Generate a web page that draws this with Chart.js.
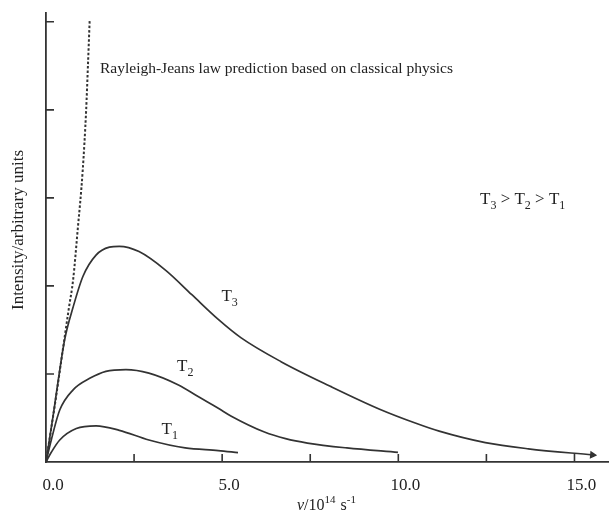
<!DOCTYPE html>
<html>
<head>
<meta charset="utf-8">
<script src="https://cdn.jsdelivr.net/npm/chart.js@4"></script>
<style>
  html,body{margin:0;padding:0;background:#fff;}
  #wrap{width:614px;height:520px;position:relative;}
</style>
</head>
<body>
<div id="wrap"><canvas id="c" width="614" height="520"></canvas></div>
<script>
// values (x in 10^14 s^-1, y in arbitrary units)
const rjX = [0, 0.27, 0.49, 0.65, 0.77, 0.9, 1.04, 1.14, 1.19, 1.24];
const rjY = [0, 0.7, 1.31, 1.75, 2.07, 2.64, 3.3, 4.0, 4.5, 5.02];

const t3X = [0, 0.2, 0.53, 0.77, 1.05, 1.42, 1.8, 2.08, 2.64, 3.39, 4.14, 4.89, 5.54, 6.67, 8.07, 9.47, 10.5, 11.16, 12.47, 13.69, 15.51];
const t3Y = [0, 0.52, 1.39, 1.76, 2.11, 2.35, 2.44, 2.45, 2.39, 2.18, 1.9, 1.62, 1.41, 1.14, 0.86, 0.6, 0.44, 0.35, 0.22, 0.15, 0.08];

const t2X = [0, 0.15, 0.39, 0.77, 1.24, 1.7, 2.27, 2.92, 3.76, 4.33, 4.89, 5.26, 6.2, 6.8, 7.42, 8.54, 9.99];
const t2Y = [0, 0.25, 0.59, 0.82, 0.95, 1.03, 1.05, 1.01, 0.875, 0.74, 0.61, 0.52, 0.34, 0.265, 0.215, 0.16, 0.11];

const t1X = [0, 0.15, 0.39, 0.86, 1.42, 2.08, 2.92, 3.95, 4.89, 5.45];
const t1Y = [0, 0.11, 0.25, 0.38, 0.41, 0.36, 0.25, 0.16, 0.13, 0.106];

const xTicks = [0, 2.5, 5, 7.5, 10, 12.5, 15];
const xTickLabels = ['0.0', '', '5.0', '', '10.0', '', '15.0'];
const yTicks = [1, 2, 3, 4, 5];

const INK = '#333';
const TXT = '#222';
const SERIF = '"Liberation Serif", "DejaVu Serif", serif';

function pts(xs, ys){ return xs.map((x,i)=>({x:x, y:ys[i]})); }

// T with subscript
function drawT(ctx, x, y, n, size){
  ctx.font = size + 'px ' + SERIF;
  ctx.fillText('T', x, y);
  const w = ctx.measureText('T').width;
  ctx.font = Math.round(size*0.72) + 'px ' + SERIF;
  ctx.fillText(String(n), x + w, y + size*0.28);
  return w + ctx.measureText(String(n)).width;
}

const decor = {
  id: 'decor',
  afterDraw(chart){
    const ctx = chart.ctx, xs = chart.scales.x, ys = chart.scales.y;
    const x0 = xs.getPixelForValue(0), y0 = ys.getPixelForValue(0);
    ctx.save();
    ctx.strokeStyle = INK; ctx.lineWidth = 1.6;
    // inner tick marks
    ctx.beginPath();
    xTicks.forEach(v=>{ if(v===0) return; const p = xs.getPixelForValue(v); ctx.moveTo(p, y0); ctx.lineTo(p, y0-8); });
    yTicks.forEach(v=>{ const p = ys.getPixelForValue(v); ctx.moveTo(x0, p); ctx.lineTo(x0+8, p); });
    ctx.stroke();

    ctx.fillStyle = TXT;
    ctx.textBaseline = 'alphabetic';
    ctx.textAlign = 'left';
    // annotation
    ctx.font = '15.5px ' + SERIF;
    ctx.fillText('Rayleigh-Jeans law prediction based on classical physics', 100, 73);

    // curve labels
    drawT(ctx, xs.getPixelForValue(4.98), ys.getPixelForValue(1.83), 3, 17);
    drawT(ctx, xs.getPixelForValue(3.72), ys.getPixelForValue(1.03), 2, 17);
    drawT(ctx, xs.getPixelForValue(3.28), ys.getPixelForValue(0.32), 1, 17);

    // T3 > T2 > T1
    let cx = 480, cy = 204;
    cx += drawT(ctx, cx, cy, 3, 17);
    ctx.font = '17px ' + SERIF; ctx.fillText(' > ', cx, cy); cx += ctx.measureText(' > ').width;
    cx += drawT(ctx, cx, cy, 2, 17);
    ctx.font = '17px ' + SERIF; ctx.fillText(' > ', cx, cy); cx += ctx.measureText(' > ').width;
    drawT(ctx, cx, cy, 1, 17);

    // x axis title: ν/10^14 s^-1
    let tx = 297, ty = 510;
    ctx.font = 'italic 16px ' + SERIF; ctx.fillText('ν', tx, ty); tx += ctx.measureText('ν').width;
    ctx.font = '16px ' + SERIF; ctx.fillText('/10', tx, ty); tx += ctx.measureText('/10').width;
    ctx.font = '11px ' + SERIF; ctx.fillText('14', tx, ty-7); tx += ctx.measureText('14').width + 5;
    ctx.font = '16px ' + SERIF; ctx.fillText('s', tx, ty); tx += ctx.measureText('s').width;
    ctx.font = '11px ' + SERIF; ctx.fillText('-1', tx, ty-7);

    // y axis title
    ctx.translate(23, 230);
    ctx.rotate(-Math.PI/2);
    ctx.textAlign = 'center';
    ctx.font = '17px ' + SERIF;
    ctx.fillText('Intensity/arbitrary units', 0, 0);
    ctx.restore();
  }
};

const lastT3 = t3X.length - 1;

new Chart(document.getElementById('c'), {
  type: 'scatter',
  data: {
    datasets: [
      { label:'Rayleigh-Jeans', data: pts(rjX, rjY), showLine:true, borderColor:INK, borderWidth:2, borderDash:[2.5,2], pointRadius:0, cubicInterpolationMode:'monotone' },
      { label:'T3', data: pts(t3X, t3Y), showLine:true, borderColor:INK, backgroundColor:INK, borderWidth:1.7, cubicInterpolationMode:'monotone',
        pointStyle:'triangle', pointRotation:95, pointRadius: c => c.dataIndex===lastT3 ? 3 : 0 },
      { label:'T2', data: pts(t2X, t2Y), showLine:true, borderColor:INK, borderWidth:1.7, pointRadius:0, cubicInterpolationMode:'monotone' },
      { label:'T1', data: pts(t1X, t1Y), showLine:true, borderColor:INK, borderWidth:1.7, pointRadius:0, cubicInterpolationMode:'monotone' }
    ]
  },
  options: {
    responsive:false,
    animation:false,
    events:[],
    layout:{ padding:{ top:13, right:0, left:0, bottom:0 } },
    plugins:{ legend:{display:false}, tooltip:{enabled:false} },
    scales:{
      x:{
        type:'linear', min:0, max:15.96,
        afterFit: s => { s.height = 58; },
        afterBuildTicks: s => { s.ticks = xTicks.map(v=>({value:v})); },
        grid:{ display:false, drawTicks:false },
        border:{ display:true, color:INK, width:1.8 },
        ticks:{ color:TXT, padding:13, labelOffset:7, maxRotation:0, autoSkip:false,
          font:{ family:'"Liberation Serif", serif', size:17 },
          callback: (v, i) => xTickLabels[i] }
      },
      y:{
        type:'linear', min:0, max:5.1,
        afterFit: s => { s.width = 46; },
        grid:{ display:false, drawTicks:false },
        border:{ display:true, color:INK, width:1.8 },
        ticks:{ display:false }
      }
    }
  },
  plugins:[decor]
});
</script>
</body>
</html>
